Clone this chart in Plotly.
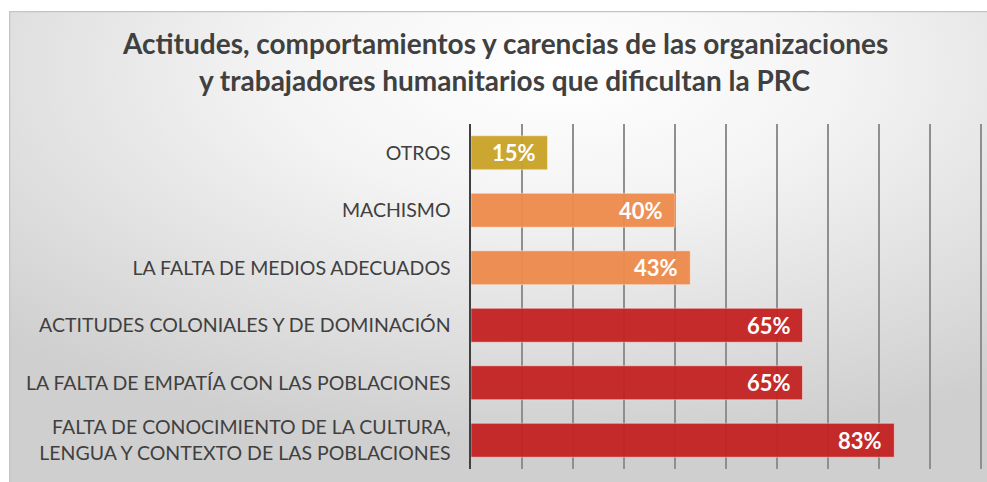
import base64
import plotly.graph_objects as go

categories = [
    "OTROS",
    "MACHISMO",
    "LA FALTA DE MEDIOS ADECUADOS",
    "ACTITUDES COLONIALES Y DE DOMINACIÓN",
    "LA FALTA DE EMPATÍA CON LAS POBLACIONES",
    "FALTA DE CONOCIMIENTO DE LA CULTURA,<br>LENGUA Y CONTEXTO DE LAS POBLACIONES",
]
values = [15, 40, 43, 65, 65, 83]
bar_colors = ["#C9A227", "#EE8B4C", "#EE8B4C", "#C42222", "#C42222", "#C42222"]
title_lines = [
    "Actitudes, comportamientos y carencias de las organizaciones",
    "y trabajadores humanitarios que dificultan la PRC",
]

W, H = 987, 482
L, R, T, B = 471, 1, 124, 13
pw, ph = W - L - R, H - T - B
XMAX = 100 * pw / 510  # 10% = 51 px, as in the reference

fx0, fy0 = 9, 11
fw, fh = W - fx0, H - fy0
svg = (
    f"<svg xmlns='http://www.w3.org/2000/svg' width='{fw}' height='{fh}' viewBox='0 0 {fw} {fh}' "
    "preserveAspectRatio='none'><defs><radialGradient id='g' cx='0.56' cy='0.12' r='0.8'>"
    "<stop offset='0' stop-color='#FFFFFF'/><stop offset='0.35' stop-color='#F4F4F4'/>"
    "<stop offset='1' stop-color='#CFCFCF'/></radialGradient></defs>"
    f"<rect x='0.5' y='0.5' width='{fw + 2}' height='{fh + 2}' fill='url(#g)' stroke='#C4C4C4' stroke-width='1.5'/></svg>"
)
src = "data:image/svg+xml;base64," + base64.b64encode(svg.encode()).decode()

fig = go.Figure()
fig.add_trace(go.Bar(
    x=values, y=categories, orientation="h",
    marker=dict(color=bar_colors, opacity=0.95,
                line=dict(color="rgba(255,255,255,0.45)", width=1)),
    hoverinfo="skip",
))

for c, v in zip(categories, values):
    fig.add_annotation(x=v, y=c, xref="x", yref="y", text=f"<b>{v}%</b>",
                       showarrow=False, xanchor="right", xshift=-10,
                       font=dict(family="Lato", size=22, color="white"))

ty = [54, 91]
for line, yb in zip(title_lines, ty):
    fig.add_annotation(xref="paper", yref="paper", x=(505 - L) / pw, y=(H - B - yb) / ph,
                       xanchor="center", yanchor="bottom", text=f"<b>{line}</b>",
                       showarrow=False, yshift=-8,
                       font=dict(family="Lato", size=28, color="#404040"))

fig.add_layout_image(dict(
    source=src, xref="paper", yref="paper",
    x=(fx0 - L) / pw, y=(H - B - fy0) / ph,
    sizex=fw / pw, sizey=fh / ph,
    sizing="stretch", xanchor="left", yanchor="top", layer="below",
))

fig.update_layout(
    width=W, height=H,
    margin=dict(l=L, r=R, t=T, b=B),
    paper_bgcolor="white", plot_bgcolor="rgba(0,0,0,0)",
    bargap=0.41, showlegend=False,
    font=dict(family="Lato", color="#404040"),
)
fig.update_xaxes(range=[0, XMAX], tickmode="linear", tick0=0, dtick=10,
                 showticklabels=False, showgrid=True,
                 gridcolor="#8F8F8F", gridwidth=1.5, zeroline=False, fixedrange=True)
fig.update_yaxes(autorange="reversed", showline=True, linecolor="#404040", linewidth=2.5,
                 ticks="", ticklabelstandoff=14, tickfont=dict(family="Lato", size=19.5, color="#404040"),
                 fixedrange=True)

fig.write_html(
    "out.html",
    config={"displayModeBar": False, "staticPlot": True},
    post_script="document.body.style.margin='0';document.body.style.overflow='hidden';",
)
